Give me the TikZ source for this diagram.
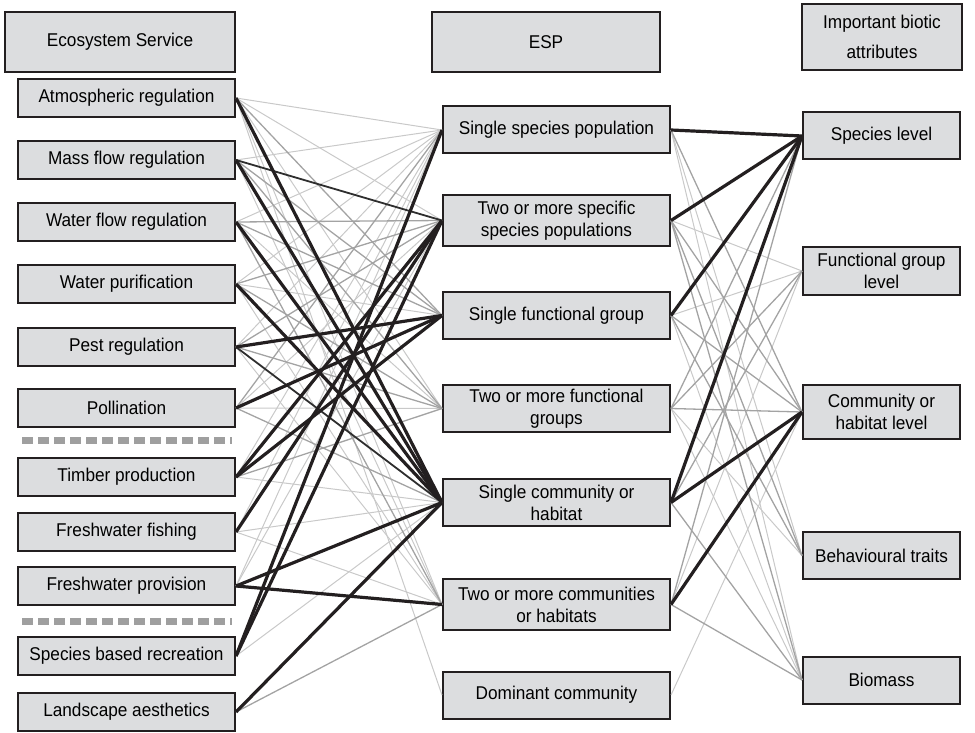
\documentclass[tikz,border=0pt]{standalone}
\usepackage{fontspec}
\setmainfont{Liberation Sans}[FakeStretch=0.93]
\definecolor{boxfill}{HTML}{DCDDDF}
\definecolor{ink}{HTML}{231F20}
\tikzset{
  box/.style={draw=ink, line width=2pt, fill=boxfill, align=center, inner sep=0pt,
    font=\fontsize{18.5}{22}\selectfont},
  headbox/.style={box, minimum height=60pt},
  servbox/.style={box, minimum width=217pt, minimum height=38pt},
  espbox/.style={box, minimum width=227pt, minimum height=47pt},
  attrbox/.style={box, minimum width=157pt, minimum height=47pt},
  lightlink/.style={gray!42, line width=1pt},
  midlink/.style={gray!72, line width=1.3pt},
  darklink/.style={black!82, line width=1.8pt},
  heavylink/.style={ink, line width=3.2pt},
  separator/.style={gray!75, line width=7pt, dash pattern=on 11pt off 5pt}
}
\begin{document}
\begin{tikzpicture}[x=1pt,y=-1pt]
  \useasboundingbox (0,0) rectangle (975,733);
  % headers
  \node[headbox, minimum width=230pt] (h1) at (120,42) {Ecosystem Service};
  \node[headbox, minimum width=228pt] (h2) at (546,42) {ESP};
  \node[headbox, minimum width=160pt, minimum height=66pt,
        font=\fontsize{18.5}{30}\selectfont] (h3) at (882,37) {Important biotic\\attributes};
  % ecosystem services
  \node[servbox] (s1) at (126.5,98) {Atmospheric regulation};
  \node[servbox] (s2) at (126.5,160) {Mass flow regulation};
  \node[servbox] (s3) at (126.5,222) {Water flow regulation};
  \node[servbox] (s4) at (126.5,284) {Water purification};
  \node[servbox] (s5) at (126.5,347) {Pest regulation};
  \node[servbox] (s6) at (126.5,408) {Pollination};
  \node[servbox] (s7) at (126.5,477) {Timber production};
  \node[servbox] (s8) at (126.5,532) {Freshwater fishing};
  \node[servbox] (s9) at (126.5,586) {Freshwater provision};
  \node[servbox] (s10) at (126.5,656) {Species based recreation};
  \node[servbox] (s11) at (126.5,712) {Landscape aesthetics};
  \draw[separator] (22,440) -- (232,440);
  \draw[separator] (22,621) -- (232,621);
  % ESP
  \node[espbox] (e1) at (556.5,130) {Single species population};
  \node[espbox, minimum height=51pt] (e2) at (556.5,220.5) {Two or more specific\\species populations};
  \node[espbox] (e3) at (556.5,315.5) {Single functional group};
  \node[espbox] (e4) at (556.5,408.5) {Two or more functional\\groups};
  \node[espbox] (e5) at (556.5,502.5) {Single community or\\habitat};
  \node[espbox, minimum height=51pt] (e6) at (556.5,604.5) {Two or more communities\\or habitats};
  \node[espbox] (e7) at (556.5,695) {Dominant community};
  % attributes
  \node[attrbox] (a1) at (881.5,136) {Species level};
  \node[attrbox, minimum height=48pt] (a2) at (881.5,271) {Functional group\\level};
  \node[attrbox, minimum height=54pt] (a3) at (881.5,412) {Community or\\habitat level};
  \node[attrbox] (a4) at (881.5,555.5) {Behavioural traits};
  \node[attrbox] (a5) at (881.5,680) {Biomass};
  % weak links
  \begin{scope}[lightlink]
    \draw (s1.east) -- (e1.west);
    \draw (s1.east) -- (e2.west);
    \draw (s1.east) -- (e4.west);
    \draw (s1.east) -- (e6.west);
    \draw (s1.east) -- (e7.west);
    \draw (s2.east) -- (e1.west);
    \draw (s2.east) -- (e6.west);
    \draw (s3.east) -- (e1.west);
    \draw (s3.east) -- (e4.west);
    \draw (s4.east) -- (e1.west);
    \draw (s4.east) -- (e3.west);
    \draw (s4.east) -- (e6.west);
    \draw (s5.east) -- (e1.west);
    \draw (s5.east) -- (e6.west);
    \draw (s6.east) -- (e2.west);
    \draw (s6.east) -- (e4.west);
    \draw (s7.east) -- (e1.west);
    \draw (s7.east) -- (e5.west);
    \draw (s8.east) -- (e1.west);
    \draw (s8.east) -- (e5.west);
    \draw (s8.east) -- (e6.west);
    \draw (s9.east) -- (e1.west);
    \draw (s9.east) -- (e2.west);
    \draw (s10.east) -- (e5.west);
    \draw (e1.east) -- (a4.west);
    \draw (e1.east) -- (a5.west);
    \draw (e2.east) -- (a2.west);
    \draw (e3.east) -- (a2.west);
    \draw (e3.east) -- (a5.west);
    \draw (e4.east) -- (a4.west);
    \draw (e4.east) -- (a5.west);
    \draw (e6.east) -- (a2.west);
    \draw (e7.east) -- (a3.west);
  \end{scope}
  % medium links
  \begin{scope}[midlink]
    \draw (s1.east) -- (e3.west);
    \draw (s2.east) -- (e3.west);
    \draw (s2.east) -- (e4.west);
    \draw (s3.east) -- (e2.west);
    \draw (s3.east) -- (e3.west);
    \draw (s3.east) -- (e6.west);
    \draw (s4.east) -- (e2.west);
    \draw (s4.east) -- (e4.west);
    \draw (s5.east) -- (e2.west);
    \draw (s5.east) -- (e4.west);
    \draw (s6.east) -- (e1.west);
    \draw (s6.east) -- (e5.west);
    \draw (s7.east) -- (e4.west);
    \draw (s11.east) -- (e6.west);
    \draw (e1.east) -- (a3.west);
    \draw (e2.east) -- (a3.west);
    \draw (e2.east) -- (a4.west);
    \draw (e2.east) -- (a5.west);
    \draw (e3.east) -- (a3.west);
    \draw (e3.east) -- (a4.west);
    \draw (e4.east) -- (a1.west);
    \draw (e4.east) -- (a2.west);
    \draw (e4.east) -- (a3.west);
    \draw (e5.east) -- (a2.west);
    \draw (e5.east) -- (a5.west);
    \draw (e6.east) -- (a1.west);
    \draw (e6.east) -- (a5.west);
  \end{scope}
  % strong links
  \begin{scope}[darklink]
    \draw (s2.east) -- (e2.west);
    \draw (s5.east) -- (e5.west);
  \end{scope}
  % main links
  \begin{scope}[heavylink]
    \draw (s1.east) -- (e5.west);
    \draw (s2.east) -- (e5.west);
    \draw (s3.east) -- (e5.west);
    \draw (s4.east) -- (e5.west);
    \draw (s5.east) -- (e3.west);
    \draw (s6.east) -- (e3.west);
    \draw (s7.east) -- (e2.west);
    \draw (s7.east) -- (e3.west);
    \draw (s8.east) -- (e2.west);
    \draw (s9.east) -- (e5.west);
    \draw (s9.east) -- (e6.west);
    \draw (s10.east) -- (e1.west);
    \draw (s10.east) -- (e2.west);
    \draw (s11.east) -- (e5.west);
    \draw (e1.east) -- (a1.west);
    \draw (e2.east) -- (a1.west);
    \draw (e3.east) -- (a1.west);
    \draw (e5.east) -- (a1.west);
    \draw (e5.east) -- (a3.west);
    \draw (e6.east) -- (a3.west);
  \end{scope}
\end{tikzpicture}
\end{document}
